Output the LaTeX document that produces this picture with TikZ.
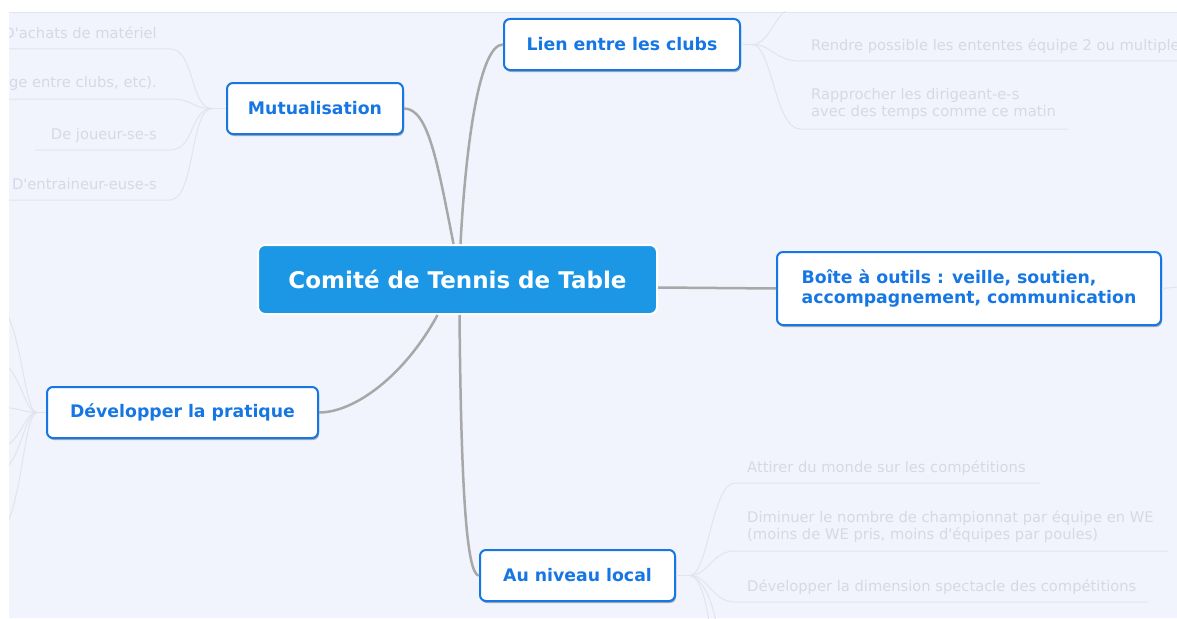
\documentclass[tikz,border=0pt]{standalone}
\usepackage{fontspec}
\setmainfont{DejaVu Sans}[Ligatures=TeXOff]
\usetikzlibrary{shadows}
\definecolor{myBack}{RGB}{241,244,253}
\definecolor{myBlue}{RGB}{22,119,228}
\definecolor{myCenter}{RGB}{27,151,230}
\definecolor{myGray}{RGB}{168,168,168}
\definecolor{myFaint}{RGB}{226,228,236}
\definecolor{myFaintText}{RGB}{214,216,228}

\begin{document}
\begin{tikzpicture}[%
    x=1pt, y=-1pt,
    every node/.style={inner sep=0pt},
    branch/.style={
        draw=myBlue, line width=2pt, fill=white, rounded corners=6pt,
        text=myBlue, font=\fontsize{17.3}{20.5}\selectfont\bfseries,
        minimum height=51pt,
        drop shadow={shadow xshift=1pt, shadow yshift=-2pt, fill=black, opacity=0.3},
    },
    leaf/.style={text=myFaintText, font=\fontsize{14.7}{16.5}\selectfont, align=left},
    link/.style={draw=myGray, line width=2.5pt},
    twig/.style={draw=myFaint, line width=1pt},
]
\useasboundingbox (0,0) rectangle (1177,618);

% place background
\fill[white] (0,0) rectangle (1177,618);
\fill[myBack] (9,12) rectangle (1177,618);
\draw[myFaint] (9,12) -- (1177,12);

% place main nodes
\node[draw=white, line width=2pt, fill=myCenter, rounded corners=7pt,
      minimum width=399pt, minimum height=69pt, text=white,
      font=\fontsize{23}{27}\selectfont\bfseries] (comite) at (457.5,279.5) {Comité de Tennis de Table};
\node[branch, minimum width=176pt] (mutu) at (315,108.5) {Mutualisation};
\node[branch, minimum width=236pt] (lien) at (622,44.5) {Lien entre les clubs};
\node[branch, minimum width=384pt, minimum height=73pt, align=left] (boite) at (969,288.5)
    {Boîte à outils : veille, soutien,\\accompagnement, communication};
\node[branch, minimum width=271pt] (dev) at (182.5,412.5) {Développer la pratique};
\node[branch, minimum width=195pt] (local) at (577.5,575.5) {Au niveau local};

% draw main connectors
\draw[link] ([xshift=-4pt]comite.north) .. controls (437,160) and (428,108.5) .. (mutu.east);
\draw[link] ([xshift=3pt]comite.north) .. controls (466,140) and (480,44.5) .. (lien.west);
\draw[link] ([yshift=-8pt]comite.east) -- (boite.west);
\draw[link] ([xshift=-20pt]comite.south) .. controls (405,375) and (355,412.5) .. (dev.east);
\draw[link] ([xshift=2pt]comite.south) .. controls (461,480) and (466,575.5) .. (local.west);

\begin{scope}
\clip (9,12) rectangle (1177,618);

% place faint leaves of Mutualisation
\node[leaf, anchor=base east] (achats) at (157,38) {D'achats de matériel};
\node[leaf, anchor=base east] (partage) at (157,88) {ge entre clubs, etc).};
\node[leaf, anchor=base east] (joueurs) at (157,139) {De joueur-se-s};
\node[leaf, anchor=base east] (entraineurs) at (157,189) {D'entraineur-euse-s};
\coordinate (mutuJ) at (212,108.5);
\draw[twig] (mutu.west) -- (mutuJ);
\foreach \y/\x in {49/-5, 99/-5, 150/35, 200/-5} {
    \draw[twig] (mutuJ) .. controls (190,108.5) and (195,\y) .. (170,\y) -- (\x,\y);
}

% place faint leaves of Lien entre les clubs
\node[leaf, anchor=base west] (ententes) at (811,51) {Rendre possible les ententes équipe 2 ou multiple};
\node[leaf, anchor=west] (dirigeants) at (811,104) {Rapprocher les dirigeant-e-s\\avec des temps comme ce matin};
\coordinate (lienJ) at (752,44.5);
\draw[twig] (lien.east) -- (lienJ);
\foreach \y/\x in {5/1200, 61/1200, 129/1068} {
    \draw[twig] (lienJ) .. controls (772,44.5) and (775,\y) .. (800,\y) -- (\x,\y);
}

% place faint line of Boite a outils
\draw[twig] (boite.east) -- (1177,287);

% place faint leaves of Au niveau local
\node[leaf, anchor=base west] (attirer) at (747,472) {Attirer du monde sur les compétitions};
\node[leaf, anchor=west] (diminuer) at (747,526.5) {Diminuer le nombre de championnat par équipe en WE\\(moins de WE pris, moins d'équipes par poules)};
\node[leaf, anchor=base west] (spectacle) at (747,591) {Développer la dimension spectacle des compétitions};
\coordinate (localJ) at (690,575.5);
\draw[twig] (local.east) -- (localJ);
\foreach \y/\x in {483/1040, 551/1168, 602/1148} {
    \draw[twig] (localJ) .. controls (708,575.5) and (712,\y) .. (735,\y) -- (\x,\y);
}
\foreach \x in {706,713} {
    \draw[twig] (localJ) .. controls (698,575.5) and (\x,595) .. (\x+4,630);
}

% place faint lines of Developper la pratique
\coordinate (devJ) at (37,412.5);
\draw[twig] (dev.west) -- (devJ);
\foreach \y in {300,360,407,450,475,540} {
    \draw[twig] (devJ) .. controls (22,412.5) and (22,\y) .. (-10,\y);
}
\end{scope}

\end{tikzpicture}
\end{document}
